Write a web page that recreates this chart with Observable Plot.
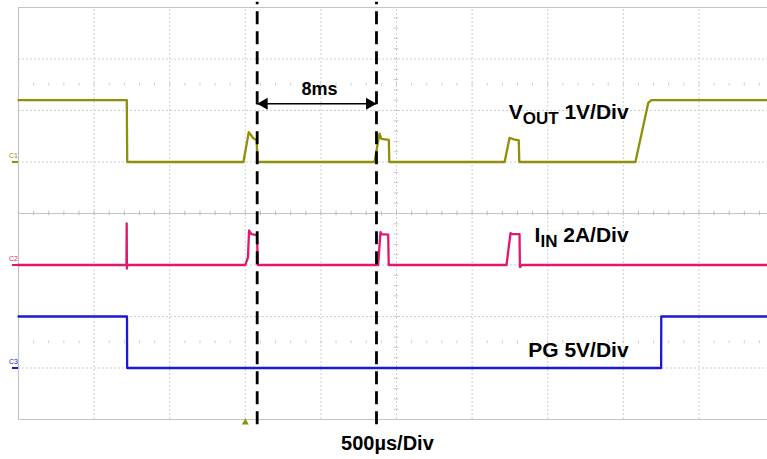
<!DOCTYPE html>
<html><head><meta charset="utf-8">
<script src="https://cdn.jsdelivr.net/npm/d3@7"></script>
<script src="https://cdn.jsdelivr.net/npm/@observablehq/plot@0.6"></script>
<style>body{margin:0;background:#fff} svg{display:block}</style>
</head><body><div id="chart"></div>
<script>
// Horizontal unit: divisions (500µs/Div); vertical unit: screen divisions
const voutT = [0, 1.432, 1.438, 2.975, 3.046, 3.1, 3.15, 3.162, 4.709, 4.775, 4.8, 4.898, 4.905, 6.43, 6.495, 6.55, 6.617, 6.624, 8.16, 8.33, 8.37, 9.907];
const voutV = [6.2, 6.2, 5.0, 5.0, 5.58, 5.47, 5.42, 5.0, 5.0, 5.55, 5.45, 5.43, 5.0, 5.0, 5.47, 5.44, 5.42, 5.0, 5.0, 6.15, 6.2, 6.2];

const iinT = [0, 1.428, 1.431, 1.434, 1.437, 3.0, 3.035, 3.05, 3.08, 3.155, 3.165, 4.757, 4.788, 4.8, 4.89, 4.897, 6.455, 6.508, 6.52, 6.627, 6.632, 6.66, 9.907];
const iinV = [3.0, 3.0, 3.81, 2.93, 3.0, 3.0, 3.15, 3.67, 3.6, 3.58, 3.0, 3.0, 3.64, 3.6, 3.59, 3.0, 3.0, 3.62, 3.6, 3.6, 2.96, 3.0, 3.0];

const pgT = [0, 1.435, 1.437, 8.5, 8.502, 9.907];
const pgV = [2.0, 2.0, 1.0, 1.0, 2.0, 2.0];

const channelNames = ["C1", "C2", "C3"];
const channelLevels = [5.0, 3.0, 1.0];
const channelColors = ["#8f8f0a", "#e0186f", "#1a1ad2"];

const cursorX = [3.157, 4.735];
const cursorLabel = "8ms";
const traceLabels = ["VOUT 1V/Div", "IIN 2A/Div", "PG 5V/Div"];
const traceLabelY = [5.96, 3.58, 1.35];
const labelRightX = 8.07;
const timebaseLabel = "500µs/Div";
const triggerX = 3.0;

const xMax = 9.907;
const toRows = (T, V) => T.map((t, i) => ({t, v: V[i]}));
const vout = toRows(voutT, voutV), iin = toRows(iinT, iinV), pg = toRows(pgT, pgV);

const gridX = d3.range(1, 10);
const gridY = [1, 2, 3, 5, 6, 7];
const minorX = d3.range(0, xMax, 0.2);
const minorY = d3.range(0, 8.01, 0.2);

const plot = Plot.plot({
  width: 767, height: 459,
  marginLeft: 18, marginRight: 0, marginTop: 7, marginBottom: 40,
  x: {domain: [0, xMax], axis: null},
  y: {domain: [0, 8], axis: null},
  style: {fontFamily: "'Liberation Sans', Arial, sans-serif", background: "#fff"},
  marks: [
    // grid
    Plot.ruleX(gridX, {x: d => d, y1: 0, y2: 8, stroke: "#cfcfcf", strokeDasharray: "2,2", strokeWidth: 1}),
    Plot.ruleY(gridY, {y: d => d, x1: 0, x2: xMax, stroke: "#cfcfcf", strokeDasharray: "2,2", strokeWidth: 1}),
    Plot.ruleY([0, 4, 8], {y: d => d, x1: 0, x2: xMax, stroke: "#c4c4c4", strokeWidth: 1.2}),
    Plot.ruleX([0], {x: d => d, y1: 0, y2: 8, stroke: "#c4c4c4", strokeWidth: 1.2}),
    Plot.ruleX(minorX, {x: d => d, y1: 3.955, y2: 4.045, stroke: "#bdbdbd", strokeWidth: 1}),
    Plot.ruleX(minorX, {x: d => d, y1: 1.47, y2: 1.53, stroke: "#d0d0d0", strokeWidth: 1}),
    Plot.ruleX(minorX, {x: d => d, y1: 6.47, y2: 6.53, stroke: "#d0d0d0", strokeWidth: 1}),
    Plot.ruleY(minorY, {y: d => d, x1: 4.97, x2: 5.03, stroke: "#c8c8c8", strokeWidth: 1}),
    // traces
    Plot.line(vout, {x: "t", y: "v", stroke: channelColors[0], strokeWidth: 2.3}),
    Plot.line(iin, {x: "t", y: "v", stroke: channelColors[1], strokeWidth: 2.3}),
    Plot.line(pg, {x: "t", y: "v", stroke: channelColors[2], strokeWidth: 2.3}),
    // channel markers
    Plot.ruleY(channelLevels, {y: d => d, x1: -0.08, x2: 0, stroke: (d, i) => channelColors[i], strokeWidth: 2}),
    Plot.text(channelNames, {x: 0, y: (d, i) => channelLevels[i], text: d => d, dx: -5, dy: -6, fill: (d, i) => channelColors[i], fontSize: 7}),
    // trigger marker
    Plot.dot([triggerX], {x: d => d, y: 0, dy: 3, symbol: "triangle", r: 2.6, fill: channelColors[0], stroke: "none"}),
    // cursors
    Plot.ruleX(cursorX, {x: d => d, y1: -0.1, y2: 8.1, stroke: "#000", strokeWidth: 2.8, strokeDasharray: "13,7"}),
    Plot.ruleY([6.13], {y: d => d, x1: cursorX[0], x2: cursorX[1], stroke: "#000", strokeWidth: 1.5}),
    Plot.dot([cursorX[1]], {x: d => d, y: 6.13, dx: -7, symbol: "triangle", rotate: 90, r: 4.5, fill: "#000", stroke: "none"}),
    Plot.dot([cursorX[0]], {x: d => d, y: 6.13, dx: 7, symbol: "triangle", rotate: -90, r: 4.5, fill: "#000", stroke: "none"}),
    Plot.text([cursorLabel], {x: (cursorX[0] + cursorX[1]) / 2 + 0.035, y: 6.41, text: d => d, fontSize: 18, fontWeight: "bold", fill: "#000"}),
    // labels
    Plot.text(traceLabels, {x: labelRightX, y: (d, i) => traceLabelY[i], text: d => d, textAnchor: "end", fontSize: 21, fontWeight: "bold", fill: "#000"}),
    Plot.text([timebaseLabel], {x: 4.88, y: -0.47, text: d => d, fontSize: 20, fontWeight: "bold", fill: "#000"})
  ]
});

// subscripts
plot.querySelectorAll("text").forEach(el => {
  const s = el.textContent;
  if (s === "VOUT 1V/Div") el.innerHTML = 'V<tspan dy="5" font-size="17">OUT</tspan><tspan dy="-5"> 1V/Div</tspan>';
  if (s === "IIN 2A/Div") el.innerHTML = 'I<tspan dy="5" font-size="17">IN</tspan><tspan dy="-5"> 2A/Div</tspan>';
});
document.getElementById("chart").appendChild(plot);
</script>
</body></html>
